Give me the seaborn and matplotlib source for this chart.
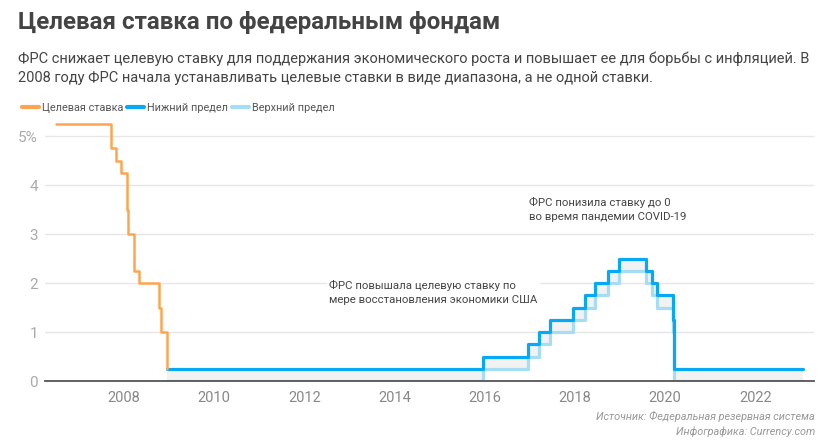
import matplotlib
matplotlib.use("Agg")
import matplotlib.pyplot as plt
import seaborn as sns
import pandas as pd

# ---- data ----
target_dates = ["2006-06-29", "2007-09-18", "2007-10-31", "2007-12-11", "2008-01-22",
                "2008-01-30", "2008-03-18", "2008-04-30", "2008-10-08", "2008-10-29",
                "2008-12-16"]
target_rate = [5.25, 4.75, 4.50, 4.25, 3.50, 3.00, 2.25, 2.00, 1.50, 1.00, 0.25]

range_dates = ["2008-12-16", "2015-12-16", "2016-12-14", "2017-03-15", "2017-06-14",
               "2017-12-13", "2018-03-21", "2018-06-13", "2018-09-26", "2018-12-19",
               "2019-07-31", "2019-09-18", "2019-10-30", "2020-03-03", "2020-03-16",
               "2023-01-20"]
lower_limit = [0.25, 0.50, 0.75, 1.00, 1.25, 1.50, 1.75, 2.00, 2.25, 2.50,
               2.25, 2.00, 1.75, 1.25, 0.25, 0.25]   # drawn in dark blue
upper_limit = [0.00, 0.25, 0.50, 0.75, 1.00, 1.25, 1.50, 1.75, 2.00, 2.25,
               2.00, 1.75, 1.50, 1.00, 0.00, 0.00]   # drawn in light blue

series_names = ["Целевая ставка", "Нижний предел", "Верхний предел"]
y_ticks = [0, 1, 2, 3, 4, 5]
y_tick_labels = ["0", "1", "2", "3", "4", "5%"]
x_tick_years = [2008, 2010, 2012, 2014, 2016, 2018, 2020, 2022]

title = "Целевая ставка по федеральным фондам"
subtitle = ("ФРС снижает целевую ставку для поддержания экономического роста и повышает ее для борьбы с инфляцией. В\n"
            "2008 году ФРС начала устанавливать целевые ставки в виде диапазона, а не одной ставки.")
note_hike = "ФРС повышала целевую ставку по\nмере восстановления экономики США"
note_covid = "ФРС понизила ставку до 0\nво время пандемии COVID-19"
source = "Источник: Федеральная резервная система\nИнфографика: Currency.com"

# ---- style ----
sns.set_theme(style="white")
FONT = ["Roboto", "DejaVu Sans"]
plt.rcParams["font.family"] = FONT

ORANGE = "#FFA54F"
DARK = "#08A9F4"
LIGHT = "#A6DDF3"
FILL = "#F2F2F2"

td = pd.to_datetime(target_dates)
rd = pd.to_datetime(range_dates)
df_t = pd.DataFrame({"date": td, "rate": target_rate})
df_r = pd.DataFrame({"date": rd, "lo": lower_limit, "up": upper_limit})

fig = plt.figure(figsize=(8.34, 4.44), dpi=100)
ax = fig.add_axes([45 / 834, 1 - 381 / 444, (814 - 45) / 834, 269.5 / 444])

ax.fill_between(df_r["date"], df_r["up"], df_r["lo"], step="post", color=FILL, zorder=1, lw=0)
sns.lineplot(data=df_r, x="date", y="up", ax=ax, color=LIGHT, lw=2.3,
             drawstyle="steps-post", estimator=None, label=series_names[2], zorder=2)
sns.lineplot(data=df_r, x="date", y="lo", ax=ax, color=DARK, lw=2.3,
             drawstyle="steps-post", estimator=None, label=series_names[1], zorder=3)
sns.lineplot(data=df_t, x="date", y="rate", ax=ax, color=ORANGE, lw=1.8,
             drawstyle="steps-post", estimator=None, label=series_names[0], zorder=4)

ax.set_xlim(pd.Timestamp("2006-04-01"), pd.Timestamp("2023-04-20"))
ax.set_ylim(0, 5.5)
ax.set_yticks(y_ticks)
ax.set_yticklabels(y_tick_labels)
ax.set_xticks([pd.Timestamp(f"{y}-01-01") for y in x_tick_years])
ax.set_xticklabels([str(y) for y in x_tick_years])
ax.set_xlabel("")
ax.set_ylabel("")
ax.grid(axis="y", color="#E6E6E6", lw=1)
ax.grid(axis="x", visible=False)
for s in ["top", "right", "left"]:
    ax.spines[s].set_visible(False)
ax.spines["bottom"].set_color("#555555")
ax.spines["bottom"].set_linewidth(1.3)
ax.spines["bottom"].set_zorder(5)
ax.tick_params(axis="y", length=0, labelsize=11, labelcolor="#AAAAAA", pad=5)
ax.tick_params(axis="x", length=0, labelsize=10.5, labelcolor="#888888", pad=7)

ax.get_legend().remove()
handles, labels = ax.get_legend_handles_labels()
order = [labels.index(n) for n in series_names]
leg = fig.legend([handles[i] for i in order], [labels[i] for i in order],
                 loc="center left", bbox_to_anchor=(12 / 834, 1 - 108 / 444),
                 ncol=3, frameon=False, fontsize=7.8, handlelength=1.6,
                 handletextpad=0.25, columnspacing=0.35, labelcolor="#555555")
for h in leg.get_lines():
    h.set_linewidth(3)

ax.annotate(note_hike, xy=(pd.Timestamp("2012-07-20"), 1.8), xycoords="data",
            fontsize=8.2, color="#444444", va="center", ha="left", linespacing=1.5,
            bbox=dict(facecolor="white", edgecolor="none", pad=2))
ax.annotate(note_covid, xy=(pd.Timestamp("2016-12-20"), 3.5), xycoords="data",
            fontsize=8.2, color="#444444", va="center", ha="left", linespacing=1.5,
            bbox=dict(facecolor="white", edgecolor="none", pad=2))

fig.text(18 / 834, 1 - 22 / 444, title, fontsize=17.4, fontweight="bold", color="#444444",
         va="center", ha="left")
fig.text(18 / 834, 1 - 68 / 444, subtitle, fontsize=10.5, color="#444444",
         va="center", ha="left", linespacing=1.45)
fig.text(815 / 834, 1 - 424 / 444, source, fontsize=7.8, color="#999999", style="italic",
         va="center", ha="right", linespacing=1.5)

fig.savefig("out.png", dpi=100)
